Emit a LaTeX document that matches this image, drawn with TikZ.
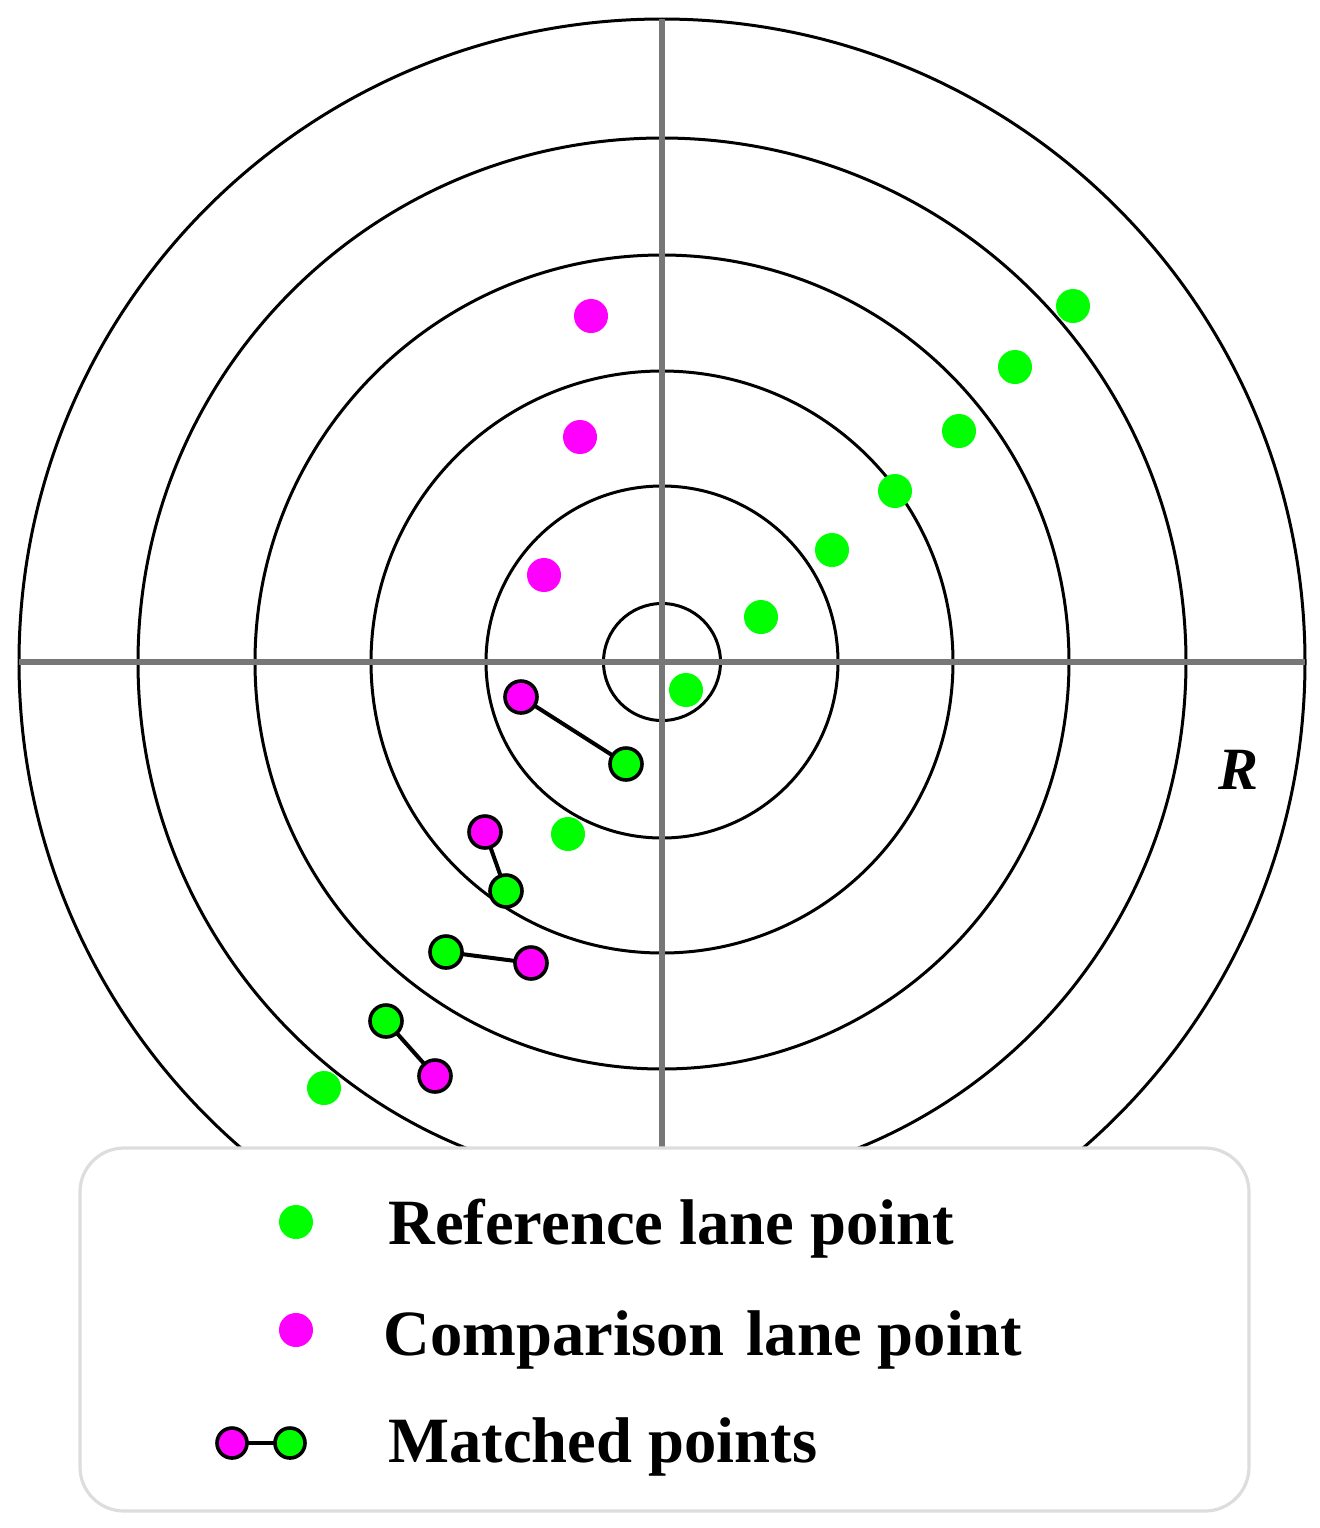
\documentclass[tikz,border=0pt]{standalone}
\usepackage{fontspec}
\setmainfont{Liberation Serif}
\definecolor{ptgreen}{HTML}{00FF00}
\definecolor{ptmag}{HTML}{FF00FF}
\definecolor{axisgray}{HTML}{777777}
\definecolor{boxgray}{HTML}{DDDDDD}
\tikzset{
  ringline/.style={draw=black, line width=1.5pt},
  axisline/.style={draw=axisgray, line width=2.6pt},
  gdot/.style={circle, fill=ptgreen, inner sep=0pt, minimum size=17pt},
  mdot/.style={circle, fill=ptmag, inner sep=0pt, minimum size=17pt},
  gmatch/.style={circle, fill=ptgreen, draw=black, line width=1.8pt, inner sep=0pt, minimum size=16pt},
  mmatch/.style={circle, fill=ptmag, draw=black, line width=1.8pt, inner sep=0pt, minimum size=16pt},
  link/.style={draw=black, line width=2pt},
  legtext/.style={anchor=base west, inner sep=0pt, font=\fontsize{32.3}{38}\selectfont\bfseries},
}
\begin{document}
\begin{tikzpicture}[x=0.5pt,y=-0.5pt]
\useasboundingbox (0,0) rectangle (1319,1528);
\coordinate (C) at (662,662);
% rings
\foreach \r in {58.5,176,291,407,524,643}{
  \draw[ringline] (C) circle[radius=\r];
}
% axes
\coordinate (L) at (19,662);
\coordinate (Rt) at (1305,662);
\coordinate (T) at (662,19);
\coordinate (B) at (662,1150);
\draw[axisline] (L) -- (Rt);
\draw[axisline] (T) -- (B);
% R label
\node[font=\fontsize{30}{36}\selectfont\bfseries\itshape, inner sep=0pt] (rlab) at (1239,770) {R};
% reference points
\node[gdot] (g1) at (1073,306) {};
\node[gdot] (g2) at (1015,367) {};
\node[gdot] (g3) at (959,431) {};
\node[gdot] (g4) at (895,491) {};
\node[gdot] (g5) at (832,550) {};
\node[gdot] (g6) at (761,617) {};
\node[gdot] (g7) at (686,690) {};
\node[gdot] (g8) at (568,834) {};
\node[gdot] (g9) at (324,1088) {};
% comparison points
\node[mdot] (m1) at (591,316) {};
\node[mdot] (m2) at (580,437) {};
\node[mdot] (m3) at (544,575) {};
% matched pairs
\draw[link] (521,697) coordinate (pa1) -- (626,764) coordinate (pb1);
\draw[link] (485,832) coordinate (pa2) -- (506,891) coordinate (pb2);
\draw[link] (446,952) coordinate (pa3) -- (531,963) coordinate (pb3);
\draw[link] (386,1021) coordinate (pa4) -- (435,1076) coordinate (pb4);
\node[mmatch] (mm1) at (pa1) {};
\node[gmatch] (gm1) at (pb1) {};
\node[mmatch] (mm2) at (pa2) {};
\node[gmatch] (gm2) at (pb2) {};
\node[gmatch] (gm3) at (pa3) {};
\node[mmatch] (mm3) at (pb3) {};
\node[gmatch] (gm4) at (pa4) {};
\node[mmatch] (mm4) at (pb4) {};
% legend box
\draw[draw=boxgray, fill=white, line width=1.6pt, rounded corners=22pt] (80,1148) rectangle (1249,1511);
\node[gdot] (lg) at (296,1222) {};
\node[mdot] (lm) at (296,1330) {};
\coordinate (lla) at (232,1443);
\coordinate (llb) at (290,1443);
\draw[link] (lla) -- (llb);
\node[mmatch, minimum size=15pt] (lmm) at (lla) {};
\node[gmatch, minimum size=15pt] (lgm) at (llb) {};
\node[legtext] (t1) at (388,1244) {Reference lane point};
\node[legtext] (t2) at (383,1355) {Comparison\hspace{0.35em}lane point};
\node[legtext] (t3) at (388,1462) {Matched points};
\end{tikzpicture}
\end{document}
